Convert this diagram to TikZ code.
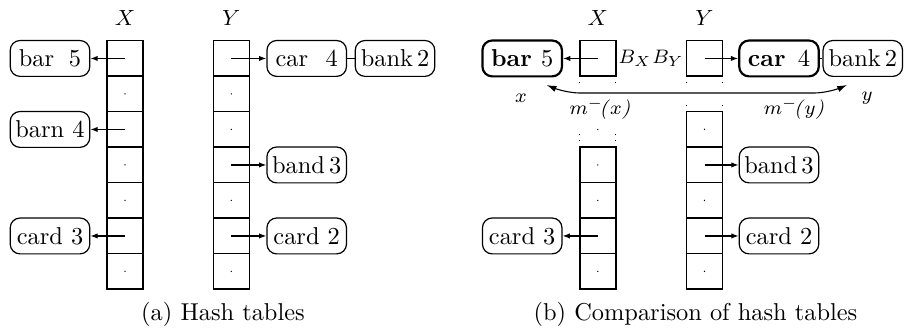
\documentclass[tikz,border=0pt]{standalone}
\usetikzlibrary{arrows.meta}
\begin{document}
\begin{tikzpicture}[x=0.41pt,y=-0.41pt,
  cell/.style={draw,line width=0.6pt,minimum width=14.76pt,minimum height=14.55pt,inner sep=0pt,outer sep=0pt},
  rec/.style={draw,line width=0.5pt,rounded corners=4pt,minimum width=32.6pt,minimum height=14.7pt,inner sep=2pt},
  brec/.style={rec,line width=0.9pt},
  arr/.style={-{Latex[length=3pt,width=2.2pt]},line width=0.45pt},
  darr/.style={{Latex[length=4pt,width=2.6pt]}-{Latex[length=4pt,width=2.6pt]},line width=0.45pt},
  lab/.style={font=\footnotesize,inner sep=1pt},
  toplab/.style={font=\small,inner sep=1pt},
  dotline/.style={dotted,line width=0.45pt}]
\useasboundingbox (0,0) rectangle (904,334);

% ---------------- (a) ----------------
\foreach \i/\y in {1/58.45,2/93.95,3/129.45,4/164.95,5/200.45,6/235.95,7/271.45}{
  \node[cell] (xa\i) at (125,\y) {};
  \node[cell] (ya\i) at (231.3,\y) {};
}
\foreach \n in {xa2,xa4,xa5,xa7,ya2,ya3,ya5,ya7}{\fill (\n.center) circle (0.3pt);}

\node[toplab] (lxa) at (125,18) {$X$};
\node[toplab] (lya) at (231.3,18) {$Y$};

\node[rec] (abar)  at (50,58.45)  {\makebox[25.5pt]{bar\hfill5}};
\node[rec] (abarn) at (50,129.45) {barn 4};
\node[rec] (acard) at (50,235.95) {card 3};
\draw[arr] (xa1.center) -- (abar.east);
\draw[arr] (xa3.center) -- (abarn.east);
\draw[arr] (xa6.center) -- (acard.east);

\node[rec] (acar)   at (306.7,58.45)  {\makebox[25.5pt]{car\hfill4}};
\node[rec] (abank)  at (395,58.45)    {bank\,2};
\node[rec] (aband)  at (306.7,164.95) {band\,3};
\node[rec] (acardb) at (306.7,235.95) {card 2};
\draw[arr] (ya1.center) -- (acar.west);
\draw[line width=0.45pt] (acar.east) -- (abank.west);
\draw[arr] (ya4.center) -- (aband.west);
\draw[arr] (ya6.center) -- (acardb.west);

\node (capa) at (223,314) {(a) Hash tables};

% ---------------- (b) ----------------
\foreach \i/\y in {1/58.45,4/164.95,5/200.45,6/235.95,7/271.45}{
  \node[cell] (xb\i) at (597.8,\y) {};
}
\foreach \i/\y in {1/58.45,3/129.45,4/164.95,5/200.45,6/235.95,7/271.45}{
  \node[cell] (yb\i) at (704.5,\y) {};
}
\foreach \n in {xb4,xb5,xb7,yb3,yb5,yb7}{\fill (\n.center) circle (0.3pt);}
\coordinate (xb3c) at (597.8,129.45);
\fill (xb3c) circle (0.3pt);

% dotted continuations
\draw[dotline] (xb1.south west) -- ++(0,11);
\draw[dotline] (xb1.south east) -- ++(0,11);
\draw[dotline] (xb4.north west) -- ++(0,-16);
\draw[dotline] (xb4.north east) -- ++(0,-16);
\draw[dotline] (yb1.south west) -- ++(0,11);
\draw[dotline] (yb1.south east) -- ++(0,11);
\draw[dotline] (yb3.north west) -- ++(0,-9);
\draw[dotline] (yb3.north east) -- ++(0,-9);

\node[toplab] (lxb) at (597.8,18) {$X$};
\node[toplab] (lyb) at (704.5,18) {$Y$};
\node[lab,anchor=west] (bx) at (xb1.east) {$B_X$};
\node[lab,anchor=east] (by) at (yb1.west) {$B_Y$};

\node[brec] (bbar)  at (522.2,58.45)  {\makebox[25.5pt]{\textbf{bar}\hfill5}};
\node[rec]  (bcard) at (522.2,235.95) {card 3};
\draw[arr] (xb1.center) -- (bbar.east);
\draw[arr] (xb6.center) -- (bcard.east);

\node[brec] (bcar)   at (779,58.45)   {\makebox[25.5pt]{\textbf{car}\hfill4}};
\node[rec]  (bbank)  at (862.8,58.45) {bank\,2};
\node[rec]  (bband)  at (779,164.95)  {band\,3};
\node[rec]  (bcardb) at (779,235.95)  {card 2};
\draw[arr] (yb1.center) -- (bcar.west);
\draw[line width=0.45pt] (bcar.east) -- (bbank.west);
\draw[arr] (yb4.center) -- (bband.west);
\draw[arr] (yb6.center) -- (bcardb.west);

% m^- arrow
\coordinate (mx) at (546.7,85);
\coordinate (my) at (847,85);
\draw[darr,rounded corners=6pt] (mx) -- (565,93) -- (829,93) -- (my);
\node[lab] (lx) at (521,98) {$x$};
\node[lab] (ly) at (867,98) {$y$};
\node[lab] (mmx) at (600,109) {$m^{-}\!$\textit{(}$x$\textit{)}};
\node[lab] (mmy) at (794,109) {$m^{-}\!$\textit{(}$y$\textit{)}};

\node (capb) at (695.5,314) {(b) Comparison of hash tables};
\end{tikzpicture}
\end{document}
